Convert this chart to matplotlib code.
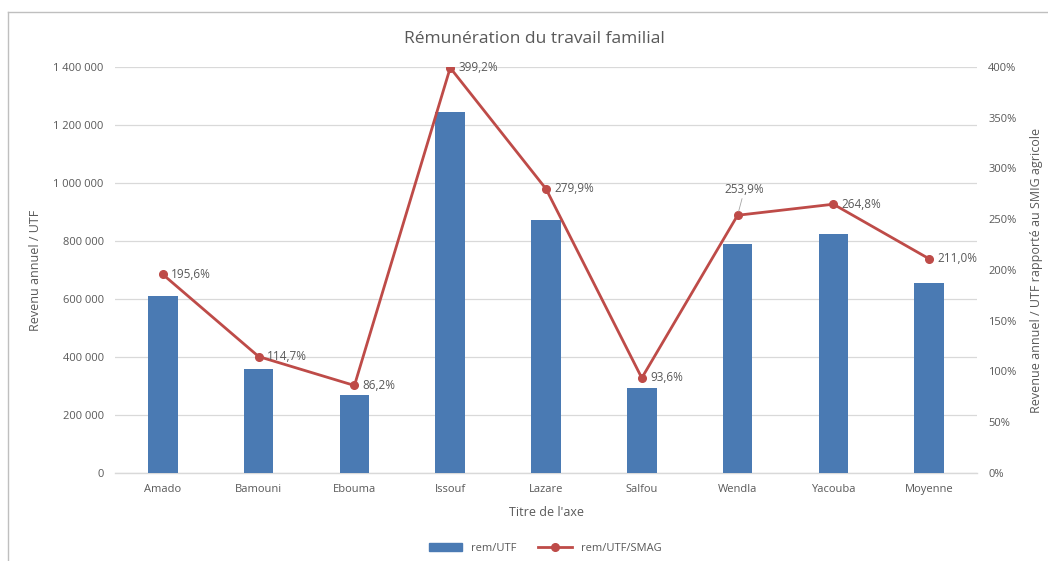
import matplotlib.pyplot as plt
from matplotlib.ticker import FuncFormatter
from matplotlib.lines import Line2D
from matplotlib.patches import Rectangle

categories = ['Amado', 'Bamouni', 'Ebouma', 'Issouf', 'Lazare', 'Salfou',
              'Wendla', 'Yacouba', 'Moyenne']
rem_utf = [611000, 358000, 268000, 1245000, 873000, 292000, 790000, 824000, 655000]
rem_utf_smag = [195.6, 114.7, 86.2, 399.2, 279.9, 93.6, 253.9, 264.8, 211.0]

plt.rcParams['font.family'] = ['Open Sans', 'DejaVu Sans']
txt = '#595959'
bar_col = '#4A7AB3'
line_col = '#BE4B48'

fig = plt.figure(figsize=(10.48, 5.61), dpi=100)
ax = fig.add_axes([0.1097, 0.1569, 0.8226, 0.7237])
ax2 = ax.twinx()

x = range(len(categories))
ax.bar(x, rem_utf, width=0.31, color=bar_col, zorder=2)
ax.set_ylim(0, 1400000)
ax.set_yticks(range(0, 1400001, 200000))
ax.yaxis.set_major_formatter(FuncFormatter(lambda v, p: f'{int(v):,}'.replace(',', ' ') if v else '0'))
ax.set_xlim(-0.5, len(categories) - 0.5)
ax.set_xticks(list(x))
ax.set_xticklabels(categories)
ax.grid(axis='y', color='#D9D9D9', linewidth=0.9, zorder=0)
ax.axhline(0, color='#D9D9D9', linewidth=1, zorder=1, clip_on=False)
ax.set_axisbelow(True)

ax2.plot(x, rem_utf_smag, color=line_col, linewidth=2, marker='o', markersize=5.5, zorder=3)
ax2.set_ylim(0, 400)
ax2.set_yticks(range(0, 401, 50))
ax2.yaxis.set_major_formatter(FuncFormatter(lambda v, p: f'{int(v)}%'))

for a in (ax, ax2):
    for s in a.spines.values():
        s.set_visible(False)
    a.tick_params(length=0, labelsize=8, labelcolor=txt, pad=8)

ax.set_ylabel('Revenu annuel / UTF', fontsize=9, color=txt, labelpad=8)
ax2.set_ylabel('Revenue annuel / UTF rapporté au SMIG agricole', fontsize=9, color=txt, labelpad=10)
ax.set_xlabel("Titre de l'axe", fontsize=9, color=txt, labelpad=8)

for i, v in enumerate(rem_utf_smag):
    lab = f'{v:.1f}%'.replace('.', ',')
    if categories[i] == 'Wendla':
        ax2.annotate(lab, (i, v), xytext=(5, 14), textcoords='offset points',
                     ha='center', va='bottom', fontsize=8.5, color=txt,
                     arrowprops=dict(arrowstyle='-', color='#A6A6A6', lw=0.6, shrinkA=0, shrinkB=3))
    else:
        ax2.annotate(lab, (i, v), xytext=(6, 0), textcoords='offset points',
                     ha='left', va='center', fontsize=8.5, color=txt)

fig.text(0.51, 0.93, 'Rémunération du travail familial', ha='center', va='center',
         fontsize=12.5, color=txt)

handles = [Rectangle((0, 0), 1, 1, color=bar_col),
           Line2D([], [], color=line_col, linewidth=2, marker='o', markersize=5.5)]
fig.legend(handles, ['rem/UTF', 'rem/UTF/SMAG'], loc='center', bbox_to_anchor=(0.52, 0.022),
           ncol=2, frameon=False, fontsize=8, labelcolor=txt, handlelength=3, columnspacing=2)

fig.add_artist(Line2D([0.008, 0.008], [0, 0.979], color='#BFBFBF', linewidth=1))
fig.add_artist(Line2D([0.008, 1], [0.979, 0.979], color='#BFBFBF', linewidth=1))

fig.savefig('out.png', dpi=100, facecolor='white')
